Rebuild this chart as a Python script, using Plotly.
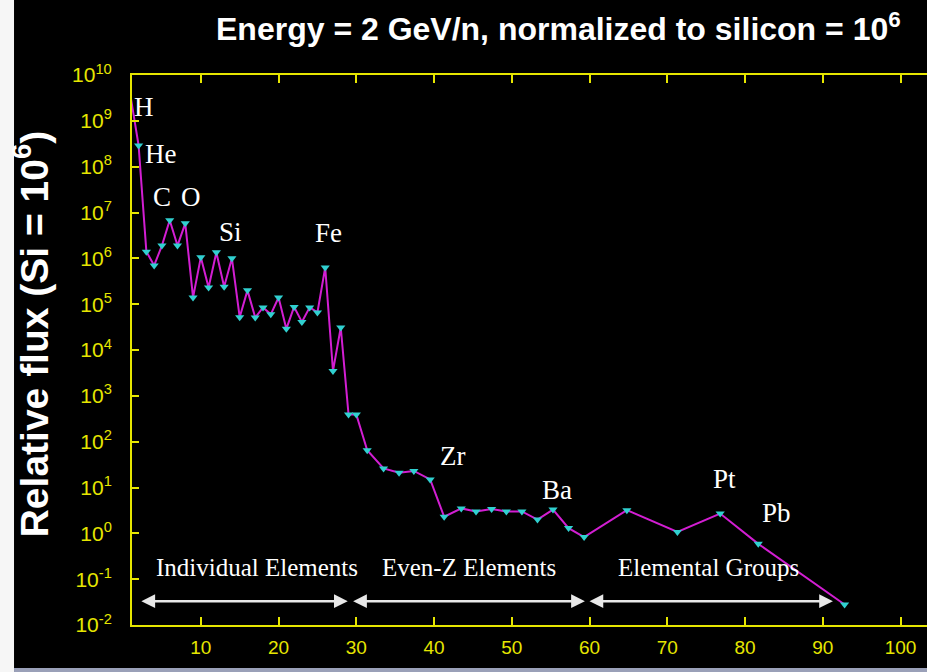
import plotly.graph_objects as go

# ---- data ----
Z = [1, 2, 3, 4, 5, 6, 7, 8, 9, 10, 11, 12, 13, 14, 15, 16, 17, 18, 19, 20,
     21, 22, 23, 24, 25, 26, 27, 28, 29, 30, 31.4, 33.5, 35.5, 37.4, 39.5,
     41.3, 43.5, 45.4, 47.4, 49.3, 51.3, 53.3, 55.3, 57.3, 59.3, 64.8, 71.3,
     76.8, 81.7, 92.8]
flux = [3.2e9, 2.9e8, 1.4e6, 7.0e5, 1.9e6, 6.8e6, 1.9e6, 5.8e6, 1.4e5, 1.05e6,
        2.3e5, 1.35e6, 2.4e5, 1.0e6, 5.2e4, 2.0e5, 5.1e4, 8.5e4, 6.0e4, 1.4e5,
        2.9e4, 8.7e4, 4.1e4, 8.5e4, 6.6e4, 6.3e5, 3.5e3, 3.1e4, 390, 390,
        65, 26, 21, 23, 15, 2.3, 3.5, 3.0, 3.4, 3.0, 3.0, 2.0, 3.3, 1.3, 0.83,
        3.2, 1.07, 2.7, 0.59, 0.028]

elem_labels = ["H", "He", "C", "O", "Si", "Fe", "Zr", "Ba", "Pt", "Pb"]
elem_x = [2.73, 4.83, 4.98, 8.75, 13.86, 26.45, 42.4, 55.8, 77.4, 84.1]
elem_logy = [9.30, 8.28, 7.34, 7.34, 6.57, 6.55, 1.68, 0.94, 1.19, 0.44]

group_labels = ["Individual Elements", "Even-Z Elements", "Elemental Groups"]
group_start = [2.16, 29.4, 59.8]
group_end = [28.9, 59.4, 91.3]
group_label_x = [17.2, 44.5, 75.3]

x_ticks = [10, 20, 30, 40, 50, 60, 70, 80, 90, 100]
y_exps = list(range(-2, 11))

title_text = "Energy = 2 GeV/n, normalized to silicon = 10<sup>6</sup>"
ytitle_text = "Relative flux (Si = 10<sup>6</sup>)"

YELLOW = "#e6e600"
MAGENTA = "#d21ed2"
CYAN = "#30d0d0"

fig = go.Figure()
fig.add_trace(go.Scatter(
    x=Z, y=flux, mode="lines+markers",
    line=dict(color=MAGENTA, width=2),
    marker=dict(symbol="triangle-down", size=8, color=CYAN),
    cliponaxis=False, showlegend=False,
))

annotations = []
for t, xx, yy in zip(elem_labels, elem_x, elem_logy):
    annotations.append(dict(x=xx, y=yy, xref="x", yref="y", text=t, showarrow=False,
                            font=dict(family="Liberation Serif", size=27, color="white"),
                            xanchor="center", yanchor="middle"))
for t, s, e, lx in zip(group_labels, group_start, group_end, group_label_x):
    annotations.append(dict(x=lx, y=-0.75, xref="x", yref="y", text=t, showarrow=False,
                            font=dict(family="Liberation Serif", size=25, color="white"),
                            xanchor="center", yanchor="middle"))
    annotations.append(dict(x=e, y=-1.48, ax=s, ay=-1.48, xref="x", yref="y",
                            axref="x", ayref="y", text="", showarrow=True,
                            arrowhead=2, arrowside="end+start", arrowsize=1.1,
                            arrowwidth=2.5, arrowcolor="#e8e8e8"))
annotations.append(dict(x=0.537, y=1.088, xref="paper", yref="paper", text="<b>" + title_text + "</b>",
                        showarrow=False, font=dict(family="Liberation Sans", size=32, color="white"),
                        xanchor="center", yanchor="middle"))
annotations.append(dict(x=-0.128, y=0.529, xref="paper", yref="paper", text="<b>" + ytitle_text + "</b>",
                        showarrow=False, textangle=-90,
                        font=dict(family="Liberation Sans", size=39, color="white"),
                        xanchor="center", yanchor="middle"))

shapes = [
    dict(type="rect", xref="paper", yref="paper", x0=-0.2, x1=-0.1484, y0=-0.2, y1=1.2,
         fillcolor="#f6f6f6", line=dict(width=0), layer="below"),
    dict(type="rect", xref="paper", yref="paper", x0=-0.1484, x1=1.05, y0=-0.09, y1=-0.078,
         fillcolor="#9aa0b8", line=dict(width=0), layer="below"),
]

fig.update_layout(
    width=927, height=672,
    margin=dict(l=132, r=0, t=75, b=47),
    paper_bgcolor="black", plot_bgcolor="black",
    annotations=annotations, shapes=shapes,
    xaxis=dict(range=[1.15, 103.4], tickvals=x_ticks, ticktext=[str(v) for v in x_ticks],
               showline=True, linecolor=YELLOW, linewidth=2, mirror="ticks",
               ticks="inside", ticklen=8, tickwidth=2, tickcolor=YELLOW,
               showgrid=False, zeroline=False, ticklabelstandoff=4,
               tickfont=dict(family="Liberation Sans", size=19, color=YELLOW)),
    yaxis=dict(type="log", range=[-2, 10],
               tickvals=[10.0 ** e for e in y_exps],
               ticktext=["10<sup>%d</sup>" % e for e in y_exps],
               showline=True, linecolor=YELLOW, linewidth=2, mirror=False,
               ticks="inside", ticklen=7, tickwidth=2, tickcolor=YELLOW,
               showgrid=False, zeroline=False, ticklabelstandoff=14,
               tickfont=dict(family="Liberation Sans", size=21, color=YELLOW)),
)

fig.write_html("out.html", config={"displayModeBar": False},
               post_script="document.body.style.margin='0';document.body.style.overflow='hidden';")
